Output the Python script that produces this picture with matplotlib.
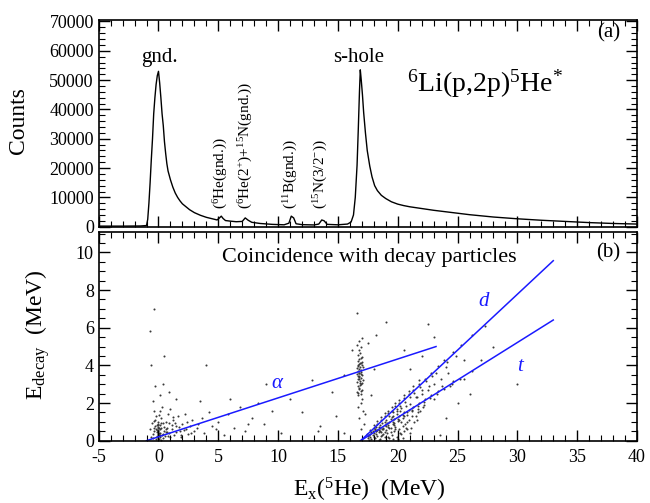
import matplotlib
matplotlib.use("Agg")
import matplotlib.pyplot as plt
from matplotlib.ticker import MultipleLocator

plt.rcParams["font.family"] = ["Liberation Serif", "DejaVu Serif"]
plt.rcParams["mathtext.fontset"] = "custom"
plt.rcParams["mathtext.rm"] = "Liberation Serif"
plt.rcParams["mathtext.it"] = "Liberation Serif:italic"
plt.rcParams["axes.unicode_minus"] = False

# (a) missing-mass spectrum
spec_ex = [-5.0, -3.0, -1.5, -1.0, -0.9, -0.8, -0.7, -0.6, -0.5, -0.4, -0.3, -0.2, -0.1, 0.0,
           0.1, 0.2, 0.3, 0.4, 0.5, 0.6, 0.7, 0.8, 0.9, 1.0, 1.2, 1.4, 1.6, 1.8, 2.0, 2.3,
           2.6, 3.0, 3.5, 4.0, 4.5, 4.9, 5.1, 5.25, 5.4, 5.6, 6.0, 6.5, 7.0, 7.25, 7.5, 7.8,
           8.5, 9.5, 10.5, 10.9, 11.1, 11.3, 11.5, 12.0, 13.0, 13.4, 13.65, 13.85, 14.1, 15.0,
           15.8, 16.1, 16.3, 16.45, 16.6, 16.7, 16.8, 16.87, 16.95, 17.05, 17.15, 17.3, 17.45,
           17.66, 17.85, 18.07, 18.3, 18.63, 19.0, 19.47, 20.0, 20.5, 21.0, 22.0, 23.0, 24.0,
           25.0, 26.0, 27.0, 28.0, 30.0, 32.0, 34.0, 36.0, 38.0, 40.0]
spec_counts = [200, 200, 250, 400, 2500, 8000, 15000, 22900, 30000, 38500, 44000, 48500, 51500, 53000,
               49000, 44000, 38500, 34500, 29000, 25000, 21500, 19000, 17500, 16000, 13500, 11500, 10000, 8800, 7800, 6800,
               5800, 4800, 3900, 3200, 2700, 2300, 3000, 3600, 2800, 2100, 1900, 1700, 1800, 3000, 2200, 1500,
               1100, 800, 650, 1200, 3600, 3000, 1000, 700, 600, 900, 2300, 2000, 800, 650,
               900, 1600, 4000, 10000, 21000, 33000, 46000, 53500, 50000, 45000, 39000, 32000, 26000,
               20700, 17000, 14000, 12300, 10700, 9600, 8500, 7700, 7200, 6800, 6200, 5600, 5100,
               4600, 4100, 3700, 3300, 2700, 2200, 1800, 1400, 1100, 900]

peak_labels = ["gnd.", "s-hole"]
peak_label_ex = [0.1, 16.7]
contam_labels = [r"($^{6}$He(gnd.))", r"($^{6}$He(2$^{+}$)+$^{15}$N(gnd.))",
                 r"($^{11}$B(gnd.))", r"($^{15}$N(3/2$^{-}$))"]
contam_ex = [5.25, 7.34, 11.1, 13.6]

# (b) decay-particle coincidence events
alpha_ex = [0.0, 0.05, -0.1, 0.1, 0.0, -0.05, 0.1, 0.0, -0.1, 0.05, 0.15, -0.15, 0.0, 0.1, -0.05, 0.05,
            -0.6, -0.4, -0.7, -0.3, -0.5, 0.3, 0.5, 0.4, 0.7, 0.9, 1.1, 1.3, 0.6, 0.2, -0.2, 1.5, 1.8,
            2.0, 2.3, 1.2, 0.8, -0.4, 0.3, 1.6, 2.6, 2.8, 3.0, 3.3, 3.6, 2.2, 1.0, -0.5, 0.1, -0.3,
            0.4, -0.6, 0.5, -0.7, -0.4, 1.5, 0.9, 0.2, -0.2, 0.35, 0.8, 1.4, 0.15, -0.35, 0.6,
            3.8, 4.2, 4.5, 5.0, 5.5, 5.8, 6.3, 6.8, 7.2, 7.8, 8.3, 8.8, 9.5, 10.2, 11.0, 12.0, 12.8,
            4.0, 3.5, 6.0, 9.0, 13.5, 14.5, 2.5, 1.9, 4.8, 7.5,
            -0.2, 0.2, 0.35, -0.35, 0.55, 0.75, 1.0, 1.15, 1.45, 1.7, 1.9, 2.1, 0.45, -0.55, -0.25,
            0.05, 0.65, 0.85, 1.25, 2.4, 2.7, 3.2, -0.45, -0.15, 0.25, 0.0, 0.08, -0.08, 0.12, -0.02]
alpha_e = [0.15, 0.3, 0.45, 0.6, 0.75, 0.9, 0.2, 0.5, 0.25, 0.65, 0.4, 0.55, 1.0, 0.85, 0.35, 0.1,
           0.2, 0.5, 0.6, 0.8, 0.35, 0.3, 0.5, 0.15, 0.7, 0.4, 0.6, 0.3, 1.0, 1.2, 1.3, 0.8, 0.5,
           0.9, 0.6, 1.1, 1.4, 1.6, 1.8, 1.3, 0.8, 1.1, 0.5, 0.9, 1.2, 1.4, 1.7, 2.1, 2.4, 2.9,
           3.0, 4.0, 4.5, 5.8, 7.0, 2.2, 2.6, 0.7, 0.6, 0.95, 0.25, 0.95, 1.55, 1.05, 0.45,
           0.4, 1.5, 0.8, 1.0, 0.3, 1.4, 0.7, 1.8, 0.5, 1.2, 2.0, 0.9, 1.6, 0.4, 2.2, 1.5, 3.2,
           4.0, 2.1, 2.2, 3.0, 0.8, 2.6, 0.35, 0.2, 0.6, 0.9,
           0.1, 0.05, 0.35, 0.7, 0.25, 0.45, 0.2, 0.85, 0.45, 0.75, 0.3, 0.55, 0.75, 0.95, 1.1,
           1.35, 0.6, 0.95, 1.25, 1.0, 0.4, 0.7, 0.15, 0.85, 0.95, 0.55, 0.4, 0.7, 0.28, 0.82]

shole_ex = [16.7, 16.9, 16.6, 17.0, 16.8, 16.7, 16.95, 16.6, 16.85, 17.1, 16.75, 16.9, 16.65, 17.0,
            16.8, 16.7, 16.95, 16.6, 16.85, 17.05, 16.75, 16.9, 16.65, 16.8, 17.0, 16.7, 16.85,
            16.75, 16.9, 16.6, 16.8, 17.0, 16.7, 16.95, 16.85, 16.7, 17.05, 16.8, 16.95, 16.7,
            16.9, 16.8, 16.6, 17.1, 16.75, 16.9, 16.65, 17.0, 16.78, 16.88, 16.72, 16.82,
            16.9, 17.1, 16.8, 17.2, 16.7, 17.0, 16.9, 17.3, 16.6, 17.5, 18.2, 15.5, 16.2, 18.0, 17.8]
shole_e = [2.4, 2.5, 2.6, 2.7, 2.8, 2.9, 3.0, 3.1, 3.15, 3.2, 3.3, 3.35, 3.45, 3.5,
           3.6, 3.7, 3.75, 3.85, 3.9, 4.0, 4.05, 4.15, 4.25, 4.35, 4.45, 4.55, 4.65,
           4.8, 4.95, 5.1, 5.3, 5.45, 2.55, 2.65, 2.95, 3.25, 3.05, 3.45, 3.55, 3.95,
           4.4, 3.8, 3.55, 3.9, 2.75, 3.65, 4.0, 4.2, 3.4, 3.05, 3.6, 4.1,
           2.0, 1.6, 1.2, 0.9, 1.8, 2.2, 0.6, 1.4, 6.8, 5.2, 5.6, 3.5, 4.8, 3.8, 2.4]

dt_ex = [17.4, 17.5, 17.7, 17.8, 18.0, 18.1, 18.0, 18.3, 18.4, 18.3, 18.6, 18.7, 18.6, 18.9, 19.0,
         18.9, 19.2, 19.3, 19.2, 19.5, 19.6, 19.5, 19.8, 19.9, 19.8, 20.1, 20.2, 20.1, 20.5, 20.6,
         20.5, 20.9, 21.0, 20.9, 21.3, 21.4, 21.3, 21.8, 21.9, 21.8, 22.3, 22.4, 22.8, 22.9, 23.4,
         23.9, 24.1, 24.6, 25.3, 26.2, 27.3,
         17.6, 17.7, 18.0, 18.1, 18.2, 18.4, 18.5, 18.4, 18.8, 18.9, 18.8, 19.2, 19.3, 19.2, 19.6,
         19.7, 19.6, 20.0, 20.1, 20.0, 20.4, 20.5, 20.4, 20.8, 20.9, 20.8, 21.2, 21.3, 21.2, 21.7,
         21.8, 21.7, 22.2, 22.3, 22.7, 22.8, 23.3, 23.4, 23.9, 24.5, 24.6, 25.2, 26.2,
         17.8, 18.1, 18.3, 18.5, 18.7, 18.9, 19.1, 19.3, 19.5, 19.7, 19.9, 20.1, 20.3, 19.0, 18.6,
         19.8, 20.6, 20.9, 21.1, 21.5, 21.9, 19.4, 18.9, 20.2, 20.7, 21.6, 22.0, 22.5, 23.0, 19.9,
         20.3, 18.2, 17.9, 19.6, 22.1, 23.6, 24.2, 25.5, 19.2, 20.0, 20.5, 21.0, 18.4, 17.5,
         18.8, 19.4, 19.0, 20.4, 18.5, 21.4, 20.8, 19.7, 18.2, 17.7,
         17.9, 18.2, 18.5, 18.7, 18.9, 19.1, 19.3, 19.5, 19.7, 19.9, 20.1, 20.3, 20.5, 20.7,
         21.0, 21.2, 21.5, 21.7, 22.0, 22.2, 22.6, 23.0, 23.2, 23.7, 24.0, 24.4, 24.9, 25.5,
         18.0, 18.6, 19.4, 20.2, 20.8, 21.6, 19.0, 19.6, 20.4, 18.3, 17.6, 19.8,
         22.0, 23.0, 19.0, 20.5, 25.0, 24.0, 27.0, 26.0, 21.0, 22.5, 28.0, 30.0, 13.3, 14.8,
         15.5, 23.5]
dt_e = [0.35, 0.25, 0.55, 0.45, 0.7, 0.6, 0.85, 0.9, 0.75, 1.05, 1.1, 0.95, 1.25, 1.3, 1.1,
        1.45, 1.45, 1.3, 1.6, 1.6, 1.5, 1.8, 1.85, 1.7, 2.0, 2.0, 1.85, 2.15, 2.25, 2.05,
        2.4, 2.5, 2.3, 2.65, 2.7, 2.55, 2.9, 3.0, 2.85, 3.2, 3.3, 3.15, 3.6, 3.45, 3.95,
        4.3, 4.2, 4.7, 5.1, 5.6, 6.1,
        0.3, 0.2, 0.4, 0.55, 0.35, 0.55, 0.7, 0.45, 0.7, 0.85, 0.6, 0.85, 1.0, 0.75, 1.0,
        1.15, 0.9, 1.15, 1.3, 1.05, 1.35, 1.5, 1.2, 1.5, 1.65, 1.35, 1.65, 1.8, 1.55, 1.85,
        2.0, 1.7, 2.05, 2.2, 2.25, 2.4, 2.5, 2.65, 2.75, 3.0, 3.15, 3.25, 3.7,
        0.1, 0.15, 0.25, 0.1, 0.3, 0.2, 0.4, 0.15, 0.3, 0.5, 0.2, 0.6, 0.35, 0.55, 0.45,
        0.75, 0.9, 1.1, 0.7, 1.3, 1.6, 1.15, 1.0, 1.6, 1.85, 2.3, 2.5, 2.7, 3.0, 1.4,
        1.0, 0.75, 0.5, 1.3, 1.8, 3.3, 3.6, 4.3, 0.2, 0.1, 0.5, 0.4, 0.05, 0.15,
        0.35, 0.65, 0.8, 0.8, 0.5, 1.0, 0.6, 0.95, 0.5, 0.35,
        0.3, 0.5, 0.85, 0.6, 0.45, 0.95, 0.7, 1.25, 0.85, 1.55, 1.1, 1.75, 1.3, 0.7,
        1.95, 1.3, 2.3, 1.5, 2.7, 1.9, 2.9, 2.2, 3.6, 2.9, 3.9, 2.9, 4.5, 3.3,
        0.2, 0.25, 0.45, 0.4, 1.0, 1.1, 0.05, 0.1, 0.15, 0.55, 0.05, 0.6,
        4.5, 5.5, 6.3, 4.8, 2.0, 1.2, 4.3, 2.5, 3.8, 6.2, 5.0, 3.0, 0.5, 1.3,
        0.4, 0.3]

# kinematic loci of the decay channels (end points)
alpha_line_ex = [-1.0, 23.2]
alpha_line_e = [0.0, 5.0]
d_line_ex = [16.9, 33.0]
d_line_e = [0.0, 9.56]
t_line_ex = [16.9, 33.0]
t_line_e = [0.0, 6.41]
line_blue = "#1a1aff"
dot_color = "#3a3a3a"

fig = plt.figure(figsize=(6.5, 5.03), dpi=100)
ax1 = fig.add_axes([0.1518, 0.5493, 0.8282, 0.4109])
ax2 = fig.add_axes([0.1518, 0.1239, 0.8282, 0.4143])

for ax in (ax1, ax2):
    ax.set_xlim(-5, 40)
    ax.xaxis.set_major_locator(MultipleLocator(5))
    ax.xaxis.set_minor_locator(MultipleLocator(1))
    ax.tick_params(which="both", direction="in", top=True, right=True, labelsize=13)
    ax.tick_params(which="major", length=8, width=1)
    ax.tick_params(which="minor", length=4, width=0.8)
    ax.tick_params(axis="x", pad=6)
    for sp in ax.spines.values():
        sp.set_linewidth(1.2)

# PANEL (a)
ax1.plot(spec_ex, spec_counts, color="black", lw=1.0)
ax1.set_ylim(0, 70500)
ax1.yaxis.set_major_locator(MultipleLocator(10000))
ax1.yaxis.set_minor_locator(MultipleLocator(2000))
ax1.tick_params(labelbottom=False)

for lab, x in zip(peak_labels, peak_label_ex):
    ax1.text(x, 57800, lab, ha="center", va="center", fontsize=15)
for lab, x in zip(contam_labels, contam_ex):
    ax1.text(x, 6000, lab, rotation=90, ha="center", va="bottom", fontsize=11)

ax1.text(27.3, 48800, r"$^{6}$Li(p,2p)$^{5}$He$^{*}$", ha="center", va="center", fontsize=20)
ax1.text(0.947, 0.936, "(a)", transform=ax1.transAxes, ha="center", va="center", fontsize=15)

# PANEL (b)
ax2.scatter(alpha_ex, alpha_e, s=2.2, color=dot_color, linewidths=0)
ax2.scatter(shole_ex, shole_e, s=2.2, color=dot_color, linewidths=0)
ax2.scatter(dt_ex, dt_e, s=2.2, color=dot_color, linewidths=0)

ax2.plot(alpha_line_ex, alpha_line_e, color=line_blue, lw=1.1)
ax2.plot(d_line_ex, d_line_e, color=line_blue, lw=1.1)
ax2.plot(t_line_ex, t_line_e, color=line_blue, lw=1.1)

ax2.text(10.0, 3.05, r"$\alpha$", color=line_blue, fontsize=15, ha="center", va="center")
ax2.text(27.2, 7.38, "d", color=line_blue, fontsize=15, style="italic", ha="center", va="center")
ax2.text(30.2, 3.93, "t", color=line_blue, fontsize=15, style="italic", ha="center", va="center")

ax2.set_ylim(0, 11.07)
ax2.yaxis.set_major_locator(MultipleLocator(2))
ax2.yaxis.set_minor_locator(MultipleLocator(0.5))

ax2.text(0.502, 0.877, "Coincidence with decay particles", transform=ax2.transAxes,
         ha="center", va="center", fontsize=16)
ax2.text(0.947, 0.899, "(b)", transform=ax2.transAxes, ha="center", va="center", fontsize=15)

fig.text(0.028, 0.761, "Counts", rotation=90, ha="center", va="center", fontsize=17)
fig.text(0.058, 0.334, r"E$_{\rm decay}$  (MeV)", rotation=90, ha="center", va="center", fontsize=17)
fig.text(0.568, 0.026, r"E$_{\rm x}$($^{5}$He)  (MeV)", ha="center", va="center", fontsize=17)

fig.savefig("out.png", dpi=100)
plt.close(fig)
